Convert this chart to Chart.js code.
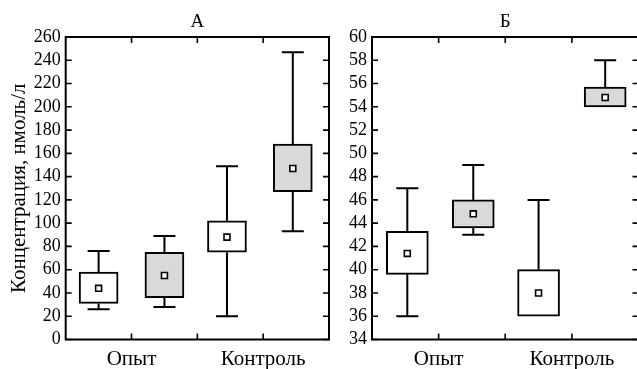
<!DOCTYPE html>
<html><head><meta charset="utf-8">
<script src="https://cdn.jsdelivr.net/npm/chart.js@4/dist/chart.umd.min.js"></script>
<style>
html,body{margin:0;padding:0;background:#fff;overflow:hidden;width:637px;height:369px;}
#wrap{position:relative;width:637px;height:369px;overflow:hidden;background:#fff;}
canvas{position:absolute;top:0;}
#cA{left:0;} #cB{left:336px;}
</style></head><body>
<div id="wrap"><canvas id="cA" width="336" height="369"></canvas><canvas id="cB" width="310" height="369"></canvas></div>
<script>
// ---- data ----
const panelTitles = ['А', 'Б'];
const yAxisTitle = 'Концентрация, нмоль/л';
const xTickValues = [1, 3];
const xTickLabels = ['Опыт', 'Контроль'];
const xMarkTicks = [1, 2, 3];
const aPos = [0.5, 1.5, 2.45, 3.45];
const bPos = [0.53, 1.52, 2.5, 3.5];
// Panel A (nmol/l)
const aMin  = [26, 28, 20, 93];
const aQ1   = [31, 36, 75, 127];
const aMean = [44, 55, 88, 147];
const aQ3   = [58, 75, 102, 168];
const aMax  = [76, 89, 149, 247];
// Panel B
const bMin  = [36, 43, 36, 54];
const bQ1   = [39.6, 43.6, 36, 54];
const bMean = [41.4, 44.8, 38, 54.8];
const bQ3   = [43.3, 46, 40, 55.7];
const bMax  = [47, 49, 46, 58];
const boxFills = ['#ffffff', '#d9d9d9', '#ffffff', '#d9d9d9'];

const FONT = "'Liberation Serif', 'Times New Roman', serif";

const framePlugin = {
  id: 'frameTicks',
  beforeDatasetsDraw(chart, args, o) {
    const {ctx} = chart; const xs = chart.scales.x, ys = chart.scales.y;
    ctx.save(); ctx.strokeStyle = '#000'; ctx.lineWidth = 2; ctx.lineCap = 'butt';
    o.pos.forEach((p, i) => {
      const x = xs.getPixelForValue(p);
      const segs = [[o.max[i], o.q3[i]]];
      if (o.min[i] < o.q1[i]) segs.push([o.min[i], o.q1[i]]);
      segs.forEach(([end, edge]) => {
        const ye = ys.getPixelForValue(end), yb = ys.getPixelForValue(edge);
        ctx.beginPath(); ctx.moveTo(x, ye); ctx.lineTo(x, yb);
        ctx.moveTo(x - o.cap / 2, ye); ctx.lineTo(x + o.cap / 2, ye);
        ctx.stroke();
      });
    });
    ctx.restore();
  },
  afterDraw(chart) {
    const {ctx, chartArea: a} = chart; const xs = chart.scales.x, ys = chart.scales.y;
    ctx.save(); ctx.strokeStyle = '#000'; ctx.lineWidth = 2;
    ctx.strokeRect(a.left, a.top, a.right - a.left, a.bottom - a.top);
    ctx.lineWidth = 1.6; ctx.beginPath();
    ys.ticks.forEach(t => {
      const y = ys.getPixelForValue(t.value);
      ctx.moveTo(a.left, y); ctx.lineTo(a.left + 6, y);
      ctx.moveTo(a.right, y); ctx.lineTo(a.right - 6, y);
    });
    xMarkTicks.forEach(v => {
      const x = xs.getPixelForValue(v);
      ctx.moveTo(x, a.top); ctx.lineTo(x, a.top + 6);
      ctx.moveTo(x, a.bottom); ctx.lineTo(x, a.bottom - 6);
    });
    ctx.stroke(); ctx.restore();
  }
};

function makePanel(id, cfg) {
  const boxes = cfg.pos.map((p, i) => ({x: p, y: [cfg.q1[i], cfg.q3[i]]}));
  const means = cfg.pos.map((p, i) => ({x: p, y: cfg.mean[i]}));
  return new Chart(document.getElementById(id), {
    type: 'bar',
    data: {
      datasets: [
        {type: 'scatter', data: means, order: 1, pointStyle: 'rect', pointRadius: 4.2,
         pointBackgroundColor: '#fff', pointBorderColor: '#000', pointBorderWidth: 1.6},
        {type: 'bar', data: boxes, order: 2, backgroundColor: boxFills, borderColor: '#000',
         borderWidth: 2, borderSkipped: false, barThickness: cfg.barW}
      ]
    },
    options: {
      responsive: false, animation: false, events: [],
      layout: {padding: {left: 0, right: cfg.padR, top: 0, bottom: 0}},
      plugins: {legend: {display: false}, tooltip: {enabled: false},
        frameTicks: {pos: cfg.pos, min: cfg.min, q1: cfg.q1, q3: cfg.q3, max: cfg.max, cap: 22}},
      scales: {
        x: {type: 'linear', position: 'bottom', min: 0, max: 4, offset: false,
          grid: {display: false, drawTicks: false}, border: {display: false},
          ticks: {stepSize: 1, autoSkip: false, maxRotation: 0, padding: 7, color: '#000',
            font: {family: FONT, size: 21},
            callback: v => { const k = xTickValues.indexOf(v); return k >= 0 ? xTickLabels[k] : ''; }},
          afterFit: s => { s.height = 29.5; }},
        xTop: {type: 'linear', position: 'top', min: 0, max: 4,
          grid: {display: false, drawTicks: false}, border: {display: false},
          ticks: {display: false},
          title: {display: true, text: cfg.title, color: '#000', font: {family: FONT, size: 19}, padding: {top: 11, bottom: 0}},
          afterFit: s => { s.height = 37; }},
        y: {type: 'linear', min: cfg.yMin, max: cfg.yMax,
          grid: {display: false, drawTicks: false}, border: {display: false},
          ticks: {stepSize: cfg.step, autoSkip: false, padding: 5, color: '#000', font: {family: FONT, size: 18}},
          title: {display: !!cfg.yTitle, text: cfg.yTitle || '', color: '#000', font: {family: FONT, size: 21}, padding: {top: 7, bottom: 0}},
          afterFit: s => { s.width = cfg.yW; }}
      }
    },
    plugins: [framePlugin]
  });
}

makePanel('cA', {title: panelTitles[0], yTitle: yAxisTitle, pos: aPos, min: aMin, q1: aQ1, mean: aMean, q3: aQ3, max: aMax,
  yMin: 0, yMax: 260, step: 20, yW: 65.7, padR: 6.7, barW: 39});
makePanel('cB', {title: panelTitles[1], pos: bPos, min: bMin, q1: bQ1, mean: bMean, q3: bQ3, max: bMax,
  yMin: 34, yMax: 60, step: 2, yW: 36, padR: 7.5, barW: 42});
</script>
</body></html>
